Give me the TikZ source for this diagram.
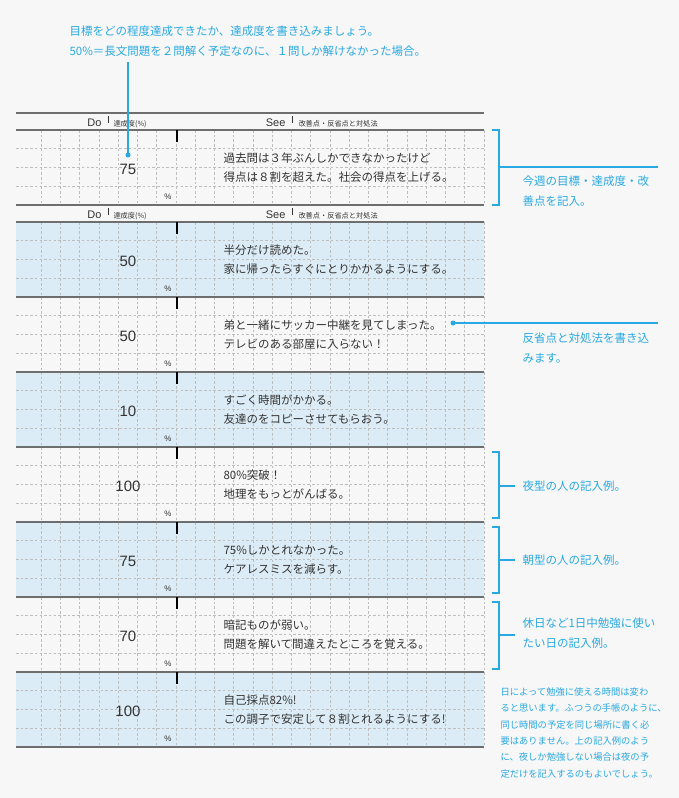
\documentclass[tikz,border=0pt]{standalone}
\usepackage{fontspec}
\setmainfont{Noto Sans CJK JP}
\newfontfamily\numfont{Liberation Sans}
\definecolor{bg}{HTML}{F7F7F7}
\definecolor{acc}{HTML}{29A9E1}
\definecolor{rowblue}{HTML}{DCECF6}
\definecolor{rule}{HTML}{6E6E6E}
\definecolor{gridc}{HTML}{BDBDBD}
\definecolor{txt}{HTML}{333333}
\tikzset{
  rowline/.style={draw=rule,line width=1.1pt},
  gridline/.style={draw=gridc,dashed,dash pattern=on 2.5pt off 2.2pt,line width=0.6pt},
  numtxt/.style={font=\numfont\fontsize{15}{15}\selectfont,text=txt},
  pct/.style={font=\numfont\fontsize{8}{8}\selectfont,text=txt},
  bodytxt/.style={font=\fontsize{11.5}{19}\selectfont,text=txt,align=left,anchor=west},
  anno/.style={font=\fontsize{11.5}{20}\selectfont,text=acc,align=left,anchor=north west},
  accline/.style={draw=acc,line width=1.1pt},
  hdr/.style={font=\numfont\fontsize{11}{11}\selectfont,text=txt},
  hdrs/.style={font=\fontsize{7.2}{7.2}\selectfont,text=txt,anchor=base west}
}
\begin{document}
\begin{tikzpicture}[x=1pt,y=-1pt]
\useasboundingbox[fill=bg] (0,0) rectangle (679,798);
% headers
\newcommand{\hdrrow}[2]{%
  \draw[rowline] (16,#1) -- (484,#1);
  \node[hdr,anchor=base east] (d#2) at (105,#1+13) {Do};
  \draw[txt,line width=0.5pt] (108,#1+3) -- (108,#1+10);
  \node[hdrs] (ds#2) at (110,#1+13) {達成度(\%)};
  \node[hdr,anchor=base east] (s#2) at (289,#1+13) {See};
  \draw[txt,line width=0.5pt] (292,#1+3) -- (292,#1+10);
  \node[hdrs] (ss#2) at (295,#1+13) {改善点・反省点と対処法};
}
\newcommand{\datarow}[5]{%
  \ifnum#2=1 \fill[rowblue] (16,#1) rectangle (484,#1+75);\fi
  \foreach \k in {0,...,23} \draw[gridline] (484-19.25*\k,#1) -- (484-19.25*\k,#1+75);
  \foreach \j in {1,2,3} \draw[gridline] (16,#1+18.75*\j) -- (484,#1+18.75*\j);
  \draw[rowline] (16,#1) -- (484,#1);
  \draw[rowline] (16,#1+75) -- (484,#1+75);
  \draw[black,line width=1.2pt] (177,#1) -- (177,#1+12);
  \node[numtxt] (n#5) at (128,#1+39) {#3};
  \node[pct] (p#5) at (168,#1+67) {\%};
  \node[bodytxt] (t#5) at (220,#1+38) {#4};
}
\hdrrow{113}{a}
\datarow{130}{0}{75}{過去問は３年ぶんしかできなかったけど\\得点は８割を超えた。社会の得点を上げる。}{1}
\hdrrow{205}{b}
\datarow{222}{1}{50}{半分だけ読めた。\\家に帰ったらすぐにとりかかるようにする。}{2}
\datarow{297}{0}{50}{弟と一緒にサッカー中継を見てしまった。\\テレビのある部屋に入らない！}{3}
\datarow{372}{1}{10}{すごく時間がかかる。\\友達のをコピーさせてもらおう。}{4}
\datarow{447}{0}{100}{80\%突破！\\地理をもっとがんばる。}{5}
\datarow{522}{1}{75}{75\%しかとれなかった。\\ケアレスミスを減らす。}{6}
\datarow{597}{0}{70}{暗記ものが弱い。\\問題を解いて間違えたところを覚える。}{7}
\datarow{672}{1}{100}{自己採点82\%!\\この調子で安定して８割とれるようにする!}{8}
% annotations
\node[anno] (top) at (66,22) {目標をどの程度達成できたか、達成度を書き込みましょう。\\50\%＝長文問題を２問解く予定なのに、１問しか解けなかった場合。};
\coordinate (topend) at (128,62);
\coordinate (dot1) at (128,155);
\draw[accline] (topend) -- (dot1);
\fill[acc] (dot1) circle (2.5pt);
% bracket 1
\draw[accline] (492,130) -- (499,130) -- (499,205) -- (492,205);
\coordinate (b1) at (499,167);
\coordinate (b1e) at (658,167);
\draw[accline] (b1) -- (b1e);
\node[anno] (a1) at (519,172) {今週の目標・達成度・改\\善点を記入。};
% dot 2
\coordinate (dot2) at (453,323);
\coordinate (d2e) at (658,323);
\fill[acc] (dot2) circle (2.5pt);
\draw[accline] (dot2) -- (d2e);
\node[anno] (a2) at (519,329) {反省点と対処法を書き込\\みます。};
% brackets 3-5
\draw[accline] (492,452) -- (499,452) -- (499,518) -- (492,518);
\coordinate (b3) at (499,486); \coordinate (b3e) at (515,486);
\draw[accline] (b3) -- (b3e);
\node[anno,anchor=west] (a3) at (519,486) {夜型の人の記入例。};
\draw[accline] (492,527) -- (499,527) -- (499,593) -- (492,593);
\coordinate (b4) at (499,560); \coordinate (b4e) at (515,560);
\draw[accline] (b4) -- (b4e);
\node[anno,anchor=west] (a4) at (519,560) {朝型の人の記入例。};
\draw[accline] (492,602) -- (499,602) -- (499,669) -- (492,669);
\coordinate (b5) at (499,635); \coordinate (b5e) at (515,635);
\draw[accline] (b5) -- (b5e);
\node[anno] (a5) at (519,614) {休日など1日中勉強に使い\\たい日の記入例。};
\node[anno,font=\fontsize{9.3}{16.4}\selectfont] (a6) at (497,684) {日によって勉強に使える時間は変わ\\ると思います。ふつうの手帳のように、\\同じ時間の予定を同じ場所に書く必\\要はありません。上の記入例のよう\\に、夜しか勉強しない場合は夜の予\\定だけを記入するのもよいでしょう。};
\end{tikzpicture}
\end{document}
